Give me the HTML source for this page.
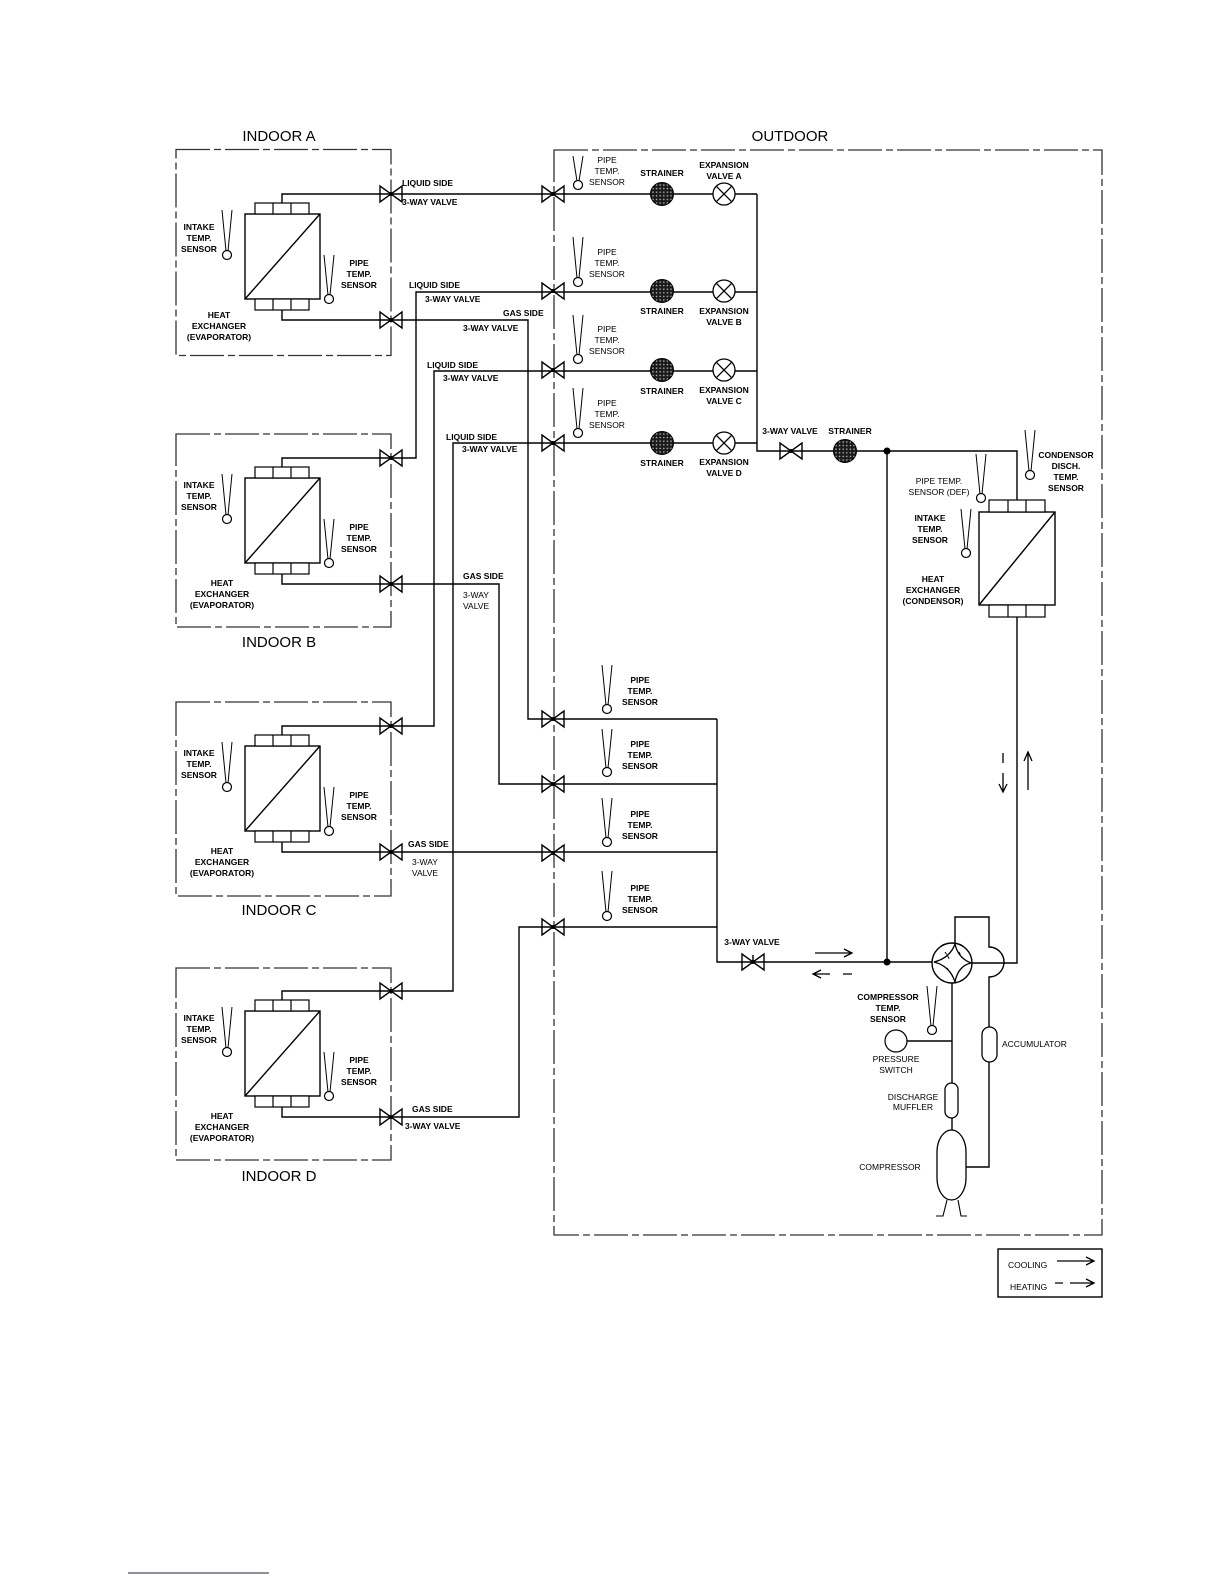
<!DOCTYPE html>
<html><head><meta charset="utf-8"><style>
html,body{margin:0;padding:0;background:#fff}
svg{display:block}
text{font-family:"Liberation Sans",sans-serif;fill:#000}
.s{font-size:8.5px}
.b{font-size:8.5px;font-weight:bold}
.t{font-size:15px}
</style></head><body>
<svg width="1224" height="1584" viewBox="0 0 1224 1584" xmlns="http://www.w3.org/2000/svg">
<defs>
<pattern id="dots" width="3.6" height="3.6" patternUnits="userSpaceOnUse">
<rect width="3.6" height="3.6" fill="#1a1a1a"/><circle cx="1.8" cy="1.8" r="0.8" fill="#bbb"/>
</pattern>
<g id="v"><path d="M-11,-8 L-11,8 L11,-8 L11,8 Z" fill="none" stroke="#000" stroke-width="1.4"/><circle r="2"/></g>
<g id="str"><circle r="11.5" fill="url(#dots)" stroke="#000" stroke-width="1"/></g>
<g id="ex"><circle r="11" fill="#fff" stroke="#000" stroke-width="1.3"/><path d="M-7.8,-7.8 L7.8,7.8 M7.8,-7.8 L-7.8,7.8" stroke="#000" stroke-width="1.3"/></g>
<g id="hx">
<rect x="245" y="214" width="75" height="85" fill="#fff" stroke="#000" stroke-width="1.4"/>
<path d="M245,299 L320,214" stroke="#000" stroke-width="1.4"/>
<rect x="255" y="203" width="54" height="11" fill="#fff" stroke="#000" stroke-width="1.2"/>
<rect x="255" y="299" width="54" height="11" fill="#fff" stroke="#000" stroke-width="1.2"/>
<path d="M273,203 V214 M291,203 V214 M273,299 V310 M291,299 V310" stroke="#000" stroke-width="1.2"/>
<path d="M222,210 L226,251 M232,210 L228,251" stroke="#000" stroke-width="1" fill="none"/>
<circle cx="227" cy="255" r="4.5" fill="#fff" stroke="#000" stroke-width="1.2"/>
<path d="M324,255 L328,295 M334,255 L330,295" stroke="#000" stroke-width="1" fill="none"/>
<circle cx="329" cy="299" r="4.5" fill="#fff" stroke="#000" stroke-width="1.2"/>
</g>
</defs>

<g fill="none" stroke="#333" stroke-width="1.3" stroke-dasharray="34 4 7 4">
<rect x="176" y="149.5" width="215" height="206"/>
<rect x="176" y="434" width="215" height="193"/>
<rect x="176" y="702" width="215" height="194"/>
<rect x="176" y="968" width="215" height="192"/>
<rect x="554" y="150" width="548" height="1085"/>
</g>

<text class="t" x="279" y="141" text-anchor="middle">INDOOR A</text>
<text class="t" x="279" y="647" text-anchor="middle">INDOOR B</text>
<text class="t" x="279" y="915" text-anchor="middle">INDOOR C</text>
<text class="t" x="279" y="1181" text-anchor="middle">INDOOR D</text>
<text class="t" x="790" y="141" text-anchor="middle">OUTDOOR</text>

<g>
<use href="#hx"/>
<text class="b" text-anchor="middle"><tspan x="199" y="230">INTAKE</tspan><tspan x="199" y="241">TEMP.</tspan><tspan x="199" y="252">SENSOR</tspan></text>
<text class="b" text-anchor="middle"><tspan x="359" y="266">PIPE</tspan><tspan x="359" y="277">TEMP.</tspan><tspan x="359" y="288">SENSOR</tspan></text>
<text class="b" text-anchor="middle"><tspan x="219" y="318">HEAT</tspan><tspan x="219" y="329">EXCHANGER</tspan><tspan x="219" y="340">(EVAPORATOR)</tspan></text>
</g>
<g transform="translate(0,264)">
<use href="#hx"/>
<text class="b" text-anchor="middle"><tspan x="199" y="224">INTAKE</tspan><tspan x="199" y="235">TEMP.</tspan><tspan x="199" y="246">SENSOR</tspan></text>
<text class="b" text-anchor="middle"><tspan x="359" y="266">PIPE</tspan><tspan x="359" y="277">TEMP.</tspan><tspan x="359" y="288">SENSOR</tspan></text>
<text class="b" text-anchor="middle"><tspan x="222" y="322">HEAT</tspan><tspan x="222" y="333">EXCHANGER</tspan><tspan x="222" y="344">(EVAPORATOR)</tspan></text>
</g>
<g transform="translate(0,532)">
<use href="#hx"/>
<text class="b" text-anchor="middle"><tspan x="199" y="224">INTAKE</tspan><tspan x="199" y="235">TEMP.</tspan><tspan x="199" y="246">SENSOR</tspan></text>
<text class="b" text-anchor="middle"><tspan x="359" y="266">PIPE</tspan><tspan x="359" y="277">TEMP.</tspan><tspan x="359" y="288">SENSOR</tspan></text>
<text class="b" text-anchor="middle"><tspan x="222" y="322">HEAT</tspan><tspan x="222" y="333">EXCHANGER</tspan><tspan x="222" y="344">(EVAPORATOR)</tspan></text>
</g>
<g transform="translate(0,797)">
<use href="#hx"/>
<text class="b" text-anchor="middle"><tspan x="199" y="224">INTAKE</tspan><tspan x="199" y="235">TEMP.</tspan><tspan x="199" y="246">SENSOR</tspan></text>
<text class="b" text-anchor="middle"><tspan x="359" y="266">PIPE</tspan><tspan x="359" y="277">TEMP.</tspan><tspan x="359" y="288">SENSOR</tspan></text>
<text class="b" text-anchor="middle"><tspan x="222" y="322">HEAT</tspan><tspan x="222" y="333">EXCHANGER</tspan><tspan x="222" y="344">(EVAPORATOR)</tspan></text>
</g>

<g fill="none" stroke="#000" stroke-width="1.4">
<path d="M282,203 V194 H757"/>
<path d="M282,467 V458 H416 V292 H757"/>
<path d="M282,735 V726 H434 V371 H757"/>
<path d="M282,1000 V991 H453 V443 H757"/>
<path d="M757,194 V451 H1017 V500"/>
<path d="M282,310 V320 H528 V719 H717"/>
<path d="M282,574 V584 H499 V784 H717"/>
<path d="M282,842 V852 H717"/>
<path d="M282,1107 V1117 H519 V927 H717"/>
<path d="M717,719 V962 H932"/>
<path d="M887,451 V962"/>
<path d="M1017,617 V963 H972"/>
<path d="M955,943 V917 H989 V947 A15,15 0 0 1 989,977 V1027"/>
<path d="M989,1062 V1167 H966"/>
<path d="M952,983 V1130"/>
<path d="M907,1041 H952"/>
<path d="M753,955 V962"/>
</g>
<circle cx="887" cy="451" r="3.5"/>
<circle cx="887" cy="962" r="3.5"/>

<use href="#v" x="391" y="194"/><use href="#v" x="391" y="320"/>
<use href="#v" x="391" y="458"/><use href="#v" x="391" y="584"/>
<use href="#v" x="391" y="726"/><use href="#v" x="391" y="852"/>
<use href="#v" x="391" y="991"/><use href="#v" x="391" y="1117"/>
<use href="#v" x="553" y="194"/><use href="#v" x="553" y="291"/>
<use href="#v" x="553" y="370"/><use href="#v" x="553" y="443"/>
<use href="#v" x="553" y="719"/><use href="#v" x="553" y="784"/>
<use href="#v" x="553" y="853"/><use href="#v" x="553" y="927"/>
<use href="#v" x="791" y="451"/><use href="#v" x="753" y="962"/>

<use href="#str" x="662" y="194"/><use href="#str" x="662" y="291"/>
<use href="#str" x="662" y="370"/><use href="#str" x="662" y="443"/>
<use href="#str" x="845" y="451"/>
<use href="#ex" x="724" y="194"/><use href="#ex" x="724" y="291"/>
<use href="#ex" x="724" y="370"/><use href="#ex" x="724" y="443"/>

<g fill="none" stroke="#000" stroke-width="1">
<path d="M573,156 L577,181 M583,156 L579,181"/>
<path d="M573,237 L577,278 M583,237 L579,278"/>
<path d="M573,315 L577,355 M583,315 L579,355"/>
<path d="M573,388 L577,429 M583,388 L579,429"/>
<path d="M602,665 L606,705 M612,665 L608,705"/>
<path d="M602,729 L606,768 M612,729 L608,768"/>
<path d="M602,798 L606,838 M612,798 L608,838"/>
<path d="M602,871 L606,912 M612,871 L608,912"/>
<path d="M1025,430 L1029,471 M1035,430 L1031,471"/>
<path d="M976,454 L980,494 M986,454 L982,494"/>
<path d="M961,509 L965,549 M971,509 L967,549"/>
<path d="M927,986 L931,1026 M937,986 L933,1026"/>
</g>
<g fill="#fff" stroke="#000" stroke-width="1.2">
<circle cx="578" cy="185" r="4.5"/><circle cx="578" cy="282" r="4.5"/>
<circle cx="578" cy="359" r="4.5"/><circle cx="578" cy="433" r="4.5"/>
<circle cx="607" cy="709" r="4.5"/><circle cx="607" cy="772" r="4.5"/>
<circle cx="607" cy="842" r="4.5"/><circle cx="607" cy="916" r="4.5"/>
<circle cx="1030" cy="475" r="4.5"/><circle cx="981" cy="498" r="4.5"/>
<circle cx="966" cy="553" r="4.5"/><circle cx="932" cy="1030" r="4.5"/>
<circle cx="896" cy="1041" r="11"/>
</g>

<rect x="979" y="512" width="76" height="93" fill="#fff" stroke="#000" stroke-width="1.4"/>
<path d="M979,605 L1055,512" stroke="#000" stroke-width="1.4"/>
<rect x="989" y="500" width="56" height="12" fill="#fff" stroke="#000" stroke-width="1.2"/>
<rect x="989" y="605" width="56" height="12" fill="#fff" stroke="#000" stroke-width="1.2"/>
<path d="M1008,500 V512 M1026,500 V512 M1008,605 V617 M1026,605 V617" stroke="#000" stroke-width="1.2"/>

<circle cx="952" cy="963" r="20" fill="#fff" stroke="#000" stroke-width="1.4"/>
<path d="M955,944 Q950,958 934,962 Q950,966 955,982 Q958,966 971,963 Q958,958 955,944" fill="none" stroke="#000" stroke-width="1.3"/>
<path d="M945,952 L950,960 M947,968 L952,975 M959,952 L962,958" stroke="#000" stroke-width="1" stroke-dasharray="3 2"/>

<g fill="#fff" stroke="#000" stroke-width="1.3">
<rect x="945" y="1083" width="13" height="35" rx="6.5"/>
<rect x="982" y="1027" width="15" height="35" rx="7.5"/>
<rect x="937" y="1130" width="29" height="70" rx="14.5" ry="22"/>
</g>
<path d="M947,1200 L943,1216 H936 M958,1200 L961,1216 H967" fill="none" stroke="#000" stroke-width="1.1"/>

<g fill="none" stroke="#000" stroke-width="1.3">
<path d="M815,953 H852 M844,949 L852,953 L844,957"/>
<path d="M813,974 H830 M821,970 L813,974 L821,978 M843,974 H852"/>
<path d="M1028,790 V752 M1024,761 L1028,752 L1032,761"/>
<path d="M1003,753 V763 M1003,773 V792 M999,784 L1003,792 L1007,784"/>
</g>

<text class="b" x="402" y="186">LIQUID SIDE</text>
<text class="b" x="402" y="205">3-WAY VALVE</text>
<text class="b" x="409" y="288">LIQUID SIDE</text>
<text class="b" x="425" y="302">3-WAY  VALVE</text>
<text class="b" x="503" y="316">GAS SIDE</text>
<text class="b" x="463" y="331">3-WAY  VALVE</text>
<text class="b" x="427" y="368">LIQUID SIDE</text>
<text class="b" x="443" y="381">3-WAY  VALVE</text>
<text class="b" x="446" y="440">LIQUID SIDE</text>
<text class="b" x="462" y="452">3-WAY  VALVE</text>
<text class="b" x="463" y="579">GAS SIDE</text>
<text class="s" x="463" y="598">3-WAY</text>
<text class="s" x="463" y="609">VALVE</text>
<text class="b" x="408" y="847">GAS SIDE</text>
<text class="s" x="425" y="865" text-anchor="middle">3-WAY</text>
<text class="s" x="425" y="876" text-anchor="middle">VALVE</text>
<text class="b" x="412" y="1112">GAS SIDE</text>
<text class="b" x="405" y="1129">3-WAY VALVE</text>

<g class="s" text-anchor="middle">
<text x="607" y="163">PIPE</text><text x="607" y="174">TEMP.</text><text x="607" y="185">SENSOR</text>
<text x="607" y="255">PIPE</text><text x="607" y="266">TEMP.</text><text x="607" y="277">SENSOR</text>
<text x="607" y="332">PIPE</text><text x="607" y="343">TEMP.</text><text x="607" y="354">SENSOR</text>
<text x="607" y="406">PIPE</text><text x="607" y="417">TEMP.</text><text x="607" y="428">SENSOR</text>
</g>
<g class="b" text-anchor="middle">
<text x="662" y="176">STRAINER</text><text x="662" y="314">STRAINER</text>
<text x="662" y="394">STRAINER</text><text x="662" y="466">STRAINER</text>
<text x="724" y="168">EXPANSION</text><text x="724" y="179">VALVE A</text>
<text x="724" y="314">EXPANSION</text><text x="724" y="325">VALVE B</text>
<text x="724" y="393">EXPANSION</text><text x="724" y="404">VALVE C</text>
<text x="724" y="465">EXPANSION</text><text x="724" y="476">VALVE D</text>
<text x="790" y="434">3-WAY VALVE</text>
<text x="850" y="434">STRAINER</text>
<text x="640" y="683">PIPE</text><text x="640" y="694">TEMP.</text><text x="640" y="705">SENSOR</text>
<text x="640" y="747">PIPE</text><text x="640" y="758">TEMP.</text><text x="640" y="769">SENSOR</text>
<text x="640" y="817">PIPE</text><text x="640" y="828">TEMP.</text><text x="640" y="839">SENSOR</text>
<text x="640" y="891">PIPE</text><text x="640" y="902">TEMP.</text><text x="640" y="913">SENSOR</text>
<text x="1066" y="458">CONDENSOR</text><text x="1066" y="469">DISCH.</text><text x="1066" y="480">TEMP.</text><text x="1066" y="491">SENSOR</text>
<text x="930" y="521">INTAKE</text><text x="930" y="532">TEMP.</text><text x="930" y="543">SENSOR</text>
<text x="933" y="582">HEAT</text><text x="933" y="593">EXCHANGER</text><text x="933" y="604">(CONDENSOR)</text>
<text x="752" y="945">3-WAY VALVE</text>
<text x="888" y="1000">COMPRESSOR</text><text x="888" y="1011">TEMP.</text><text x="888" y="1022">SENSOR</text>
</g>
<g class="s" text-anchor="middle">
<text x="939" y="484">PIPE TEMP.</text><text x="939" y="495">SENSOR (DEF)</text>
<text x="896" y="1062">PRESSURE</text><text x="896" y="1073">SWITCH</text>
<text x="913" y="1100">DISCHARGE</text><text x="913" y="1110">MUFFLER</text>
<text x="890" y="1170">COMPRESSOR</text>
</g>
<text class="s" x="1002" y="1047">ACCUMULATOR</text>

<rect x="998" y="1249" width="104" height="48" fill="none" stroke="#000" stroke-width="1.4"/>
<text class="s" x="1008" y="1268">COOLING</text>
<text class="s" x="1010" y="1290">HEATING</text>
<path d="M1057,1261 H1094 M1086,1257 L1094,1261 L1086,1265" fill="none" stroke="#000" stroke-width="1.3"/>
<path d="M1055,1283 H1063 M1070,1283 H1094 M1086,1279 L1094,1283 L1086,1287" fill="none" stroke="#000" stroke-width="1.3"/>

<line x1="128" y1="1573" x2="269" y2="1573" stroke="#223" stroke-width="1"/>
</svg>
</body></html>
